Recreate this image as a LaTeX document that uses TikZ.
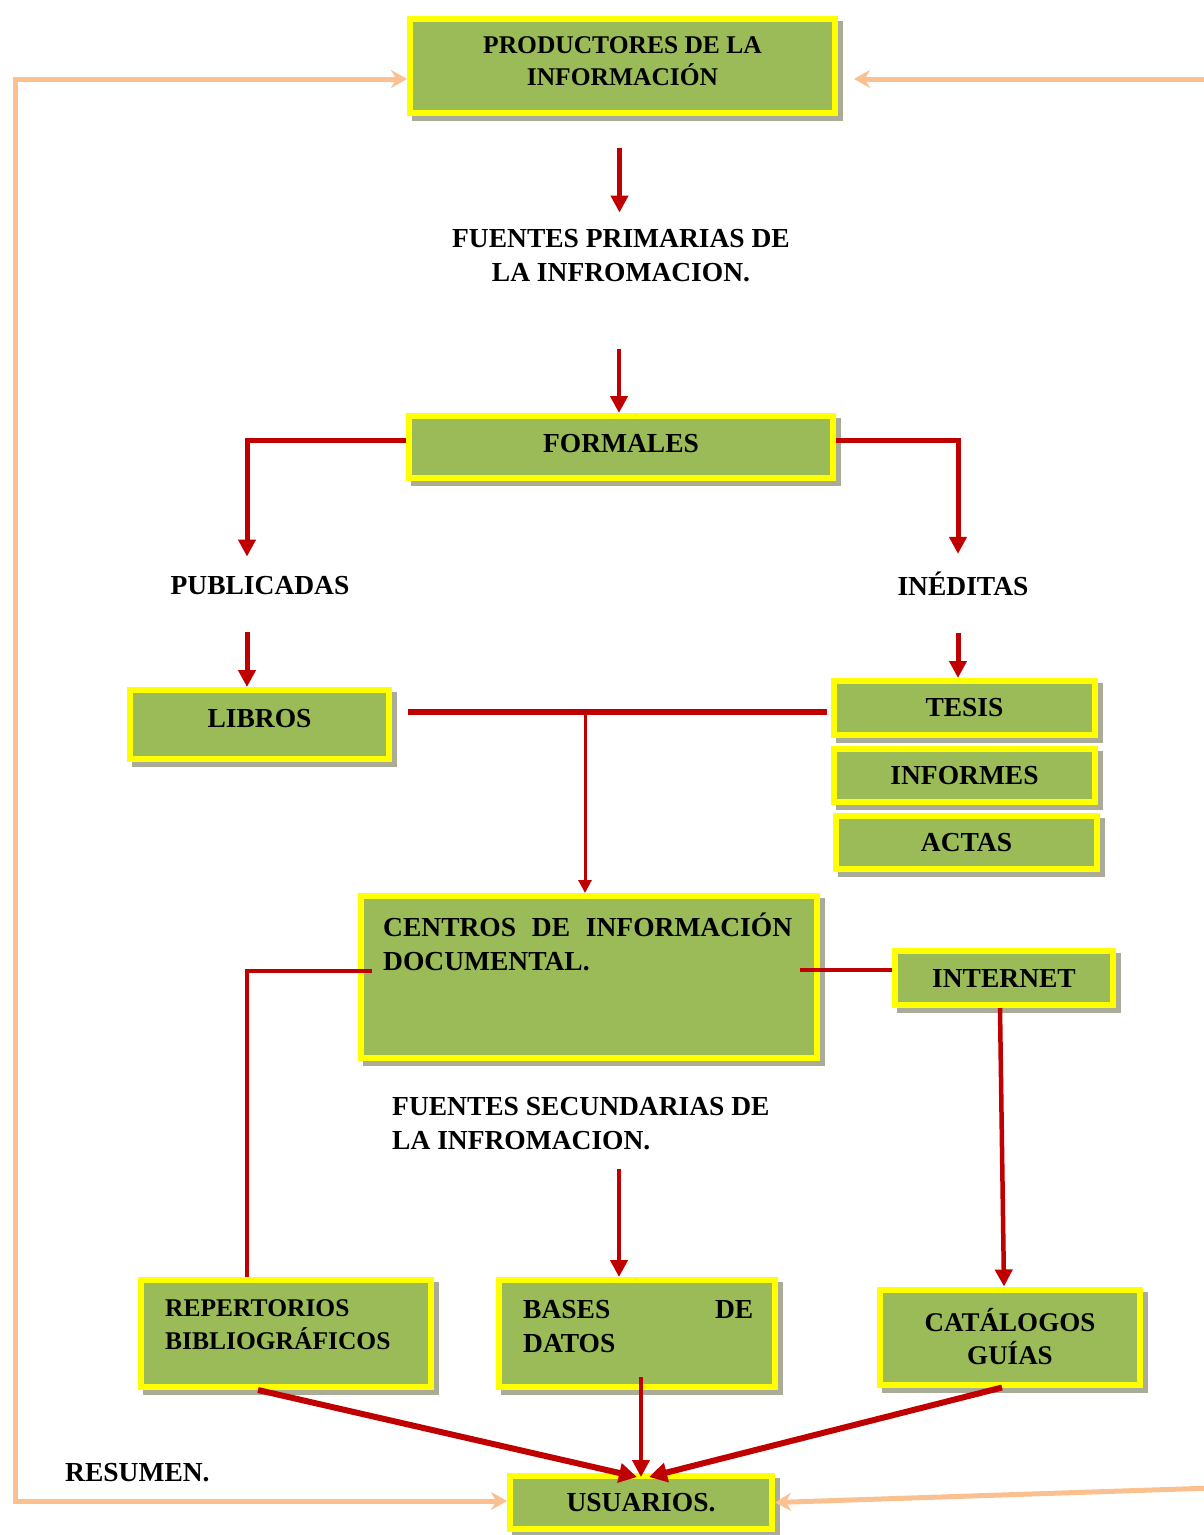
\documentclass[tikz,border=0pt]{standalone}
\usepackage{fontspec}
\setmainfont{Liberation Serif}
\usetikzlibrary{arrows.meta}
\definecolor{boxgreen}{HTML}{9BBB59}
\definecolor{boxyellow}{HTML}{FFFF00}
\definecolor{shadowc}{HTML}{A9AC96}
\definecolor{arrowred}{HTML}{C00000}
\definecolor{peachc}{HTML}{FAC090}
\begin{document}
\begin{tikzpicture}[x=1pt,y=-1pt,
  box/.style={rectangle, fill=boxgreen, draw=boxyellow, line width=6pt, inner sep=0pt, align=center,
    font=\bfseries\fontsize{27.5}{34}\selectfont,
    preaction={fill=shadowc, draw=shadowc, transform canvas={xshift=5pt,yshift=-5pt}}},
  lbl/.style={inner sep=0pt, font=\bfseries\fontsize{27.5}{34}\selectfont},
  redarrow/.style={draw=arrowred, line width=5pt, -{Triangle[width=17pt,length=17pt]}},
  bigarrow/.style={draw=arrowred, line width=6pt, -{Triangle[width=19pt,length=18pt]}},
  redline/.style={draw=arrowred, line width=5.5pt},
  peach/.style={draw=peachc, line width=5pt}]
\useasboundingbox (0,0) rectangle (1204,1535);

% coordinates for free ends
\coordinate (lt) at (15,79);
\coordinate (lb) at (15,1501);
\coordinate (rt) at (1212,79);
\coordinate (rb) at (1212,1488);
\coordinate (j) at (585,712);

% boxes and labels
\node[box, minimum width=425pt, minimum height=94pt, text depth=10pt, font=\bfseries\fontsize{25.5}{32}\selectfont] (prod) at (622.5,66) {PRODUCTORES DE LA\\INFORMACIÓN};
\node[lbl, align=center] (fp) at (621,256) {FUENTES PRIMARIAS DE\\LA INFROMACION.};
\node[box, minimum width=424pt, minimum height=62pt, text depth=7pt] (formales) at (621,447) {FORMALES};
\node[lbl] (publ) at (260,586) {PUBLICADAS};
\node[lbl] (ined) at (963,584) {INÉDITAS};
\node[box, minimum width=259pt, minimum height=69pt, text depth=12pt] (libros) at (259.5,724.5) {LIBROS};
\node[box, minimum width=261pt, minimum height=54pt] (tesis) at (964.5,708) {TESIS};
\node[box, minimum width=261pt, minimum height=53pt] (informes) at (964.5,775.5) {INFORMES};
\node[box, minimum width=261pt, minimum height=53pt] (actas) at (966.5,842.5) {ACTAS};
\node[box, minimum width=456pt, minimum height=162pt] (centros) at (589,977) {};
\node[lbl, anchor=west, text width=409pt, align=justify] (centrosT) at (383,942) {CENTROS DE INFORMACIÓN\linebreak DOCUMENTAL.};
\node[box, minimum width=218pt, minimum height=54pt] (internet) at (1004,978) {INTERNET};
\node[lbl, anchor=west, align=left] (fs) at (392,1124) {FUENTES SECUNDARIAS DE\\LA INFROMACION.};
\node[box, minimum width=290pt, minimum height=107pt] (repert) at (286,1333.5) {};
\node[lbl, anchor=west, align=left, font=\bfseries\fontsize{25.5}{33}\selectfont] (repertT) at (165,1325) {REPERTORIOS\\BIBLIOGRÁFICOS};
\node[box, minimum width=276pt, minimum height=107pt] (bases) at (637,1333.5) {};
\node[lbl, anchor=west, text width=230pt, align=left] (basesT) at (523,1327) {BASES\hfill DE\\DATOS};
\node[box, minimum width=260pt, minimum height=95pt, font=\bfseries\fontsize{27}{33}\selectfont] (catal) at (1010,1337) {CATÁLOGOS\\GUÍAS};
\node[box, minimum width=262pt, minimum height=53pt] (usuarios) at (641,1502.5) {USUARIOS.};
\node[lbl, anchor=west] (resumen) at (65,1473) {RESUMEN.};

% peach feedback arrows
\draw[peach, {Stealth[width=18pt,length=16pt]}-{Stealth[width=18pt,length=16pt]}] (lt -| prod.west) -- (lt) -- (lb) -- (lb -| usuarios.west);
\draw[peach, -{Stealth[width=18pt,length=16pt]}, shorten >=16pt] (rt) -- (rt -| prod.east);
\draw[peach, -{Stealth[width=18pt,length=16pt]}] (rb) -- (usuarios.east);

% red connectors
\draw[redarrow, line width=4.5pt, shorten <=32pt, shorten >=17pt] ([xshift=-3pt]prod.south) -- ([xshift=-3pt]prod.south |- fp.north);
\draw[redarrow, line width=4.5pt, shorten <=66pt] ([xshift=-2pt]formales.north |- fp.south) -- ([xshift=-2pt]formales.north);
\draw[redarrow, shorten >=20pt] ([yshift=7pt]formales.west) -| ([xshift=-13pt]publ.north);
\draw[redarrow, shorten >=18pt] ([yshift=7pt]formales.east) -| ([xshift=-5pt]ined.north);
\draw[redarrow, shorten <=37pt] ([xshift=-13pt]publ.south) -- ([xshift=-12.5pt]libros.north);
\draw[redarrow, shorten <=37pt] ([xshift=-5pt]ined.south) -- ([xshift=-6.5pt]tesis.north);
\draw[redline, line width=6pt, shorten <=16pt, shorten >=4pt] ([yshift=12.5pt]libros.east) -- (tesis.west |- j);
\draw[draw=arrowred, line width=3pt, -{Triangle[width=13pt,length=13pt]}] (j) -- (j |- centros.north);
\draw[redline, line width=4.5pt] ([xshift=14pt,yshift=6pt]centros.west) -| ([xshift=-39pt]repert.north);
\draw[redline, line width=4.5pt] ([xshift=-20pt,yshift=7pt]centros.east) -- ([yshift=8pt]internet.west);
\draw[redarrow, line width=4.5pt] ([xshift=-4pt]internet.south) -- ([xshift=-6pt]catal.north);
\draw[redarrow, line width=4.5pt, shorten <=18pt] ([xshift=-18pt]bases.north |- fs.south) -- ([xshift=-18pt]bases.north);
\draw[bigarrow] ([xshift=-28pt]repert.south) -- ([xshift=-4pt,yshift=-4pt]usuarios.north);
\draw[redarrow, line width=4pt] ([xshift=4pt,yshift=13pt]bases.south) -- ([yshift=-4pt]usuarios.north);
\draw[bigarrow] ([xshift=-8pt]catal.south) -- ([xshift=8pt,yshift=-4pt]usuarios.north);
\end{tikzpicture}
\end{document}
